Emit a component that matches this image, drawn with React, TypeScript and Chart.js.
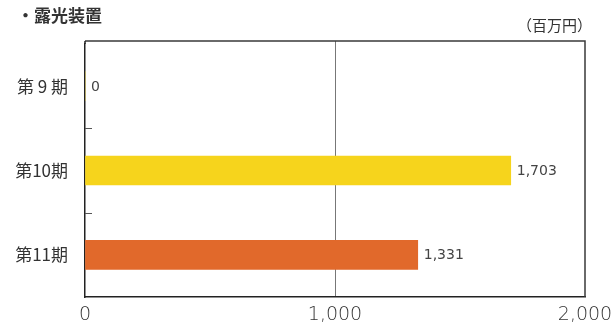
import React, { useEffect, useRef } from "react";
import { Chart, registerables } from "chart.js";

Chart.register(...registerables);

// Fiscal periods and sales of exposure equipment (million yen)
const categories = ["第 9 期", "第10期", "第11期"];
const values = [0, 1703, 1331];
const barColors = ["#f6d41c", "#f6d41c", "#e1692b"];
const xTickValues = [0, 1000, 2000];
const gridValue = 1000;

const title = "・露光装置";
const unitLabel = "（百万円）";

const fmt = (v: number) => v.toLocaleString("en-US");

const decorations = {
  id: "decorations",
  afterDatasetsDraw(chart: any) {
    const { ctx, chartArea } = chart;
    const { left, right, top, bottom } = chartArea;
    const xScale = chart.scales.x;
    const yScale = chart.scales.y;
    const frameTop = top - 3;

    ctx.save();
    // middle grid line reaches the top border
    const gx = Math.round(xScale.getPixelForValue(gridValue)) + 0.5;
    ctx.strokeStyle = "#777";
    ctx.lineWidth = 1;
    ctx.beginPath();
    ctx.moveTo(gx, frameTop);
    ctx.lineTo(gx, top);
    ctx.stroke();

    // top and right border of the plot frame
    ctx.strokeStyle = "#3a3a3a";
    ctx.lineWidth = 1.5;
    ctx.beginPath();
    ctx.moveTo(left, frameTop);
    ctx.lineTo(right, frameTop);
    ctx.lineTo(right, bottom);
    ctx.stroke();
    // left axis continues up to the top border
    ctx.strokeStyle = "#222";
    ctx.beginPath();
    ctx.moveTo(left, frameTop);
    ctx.lineTo(left, top);
    ctx.stroke();

    // short inward ticks between categories
    ctx.strokeStyle = "#555";
    ctx.lineWidth = 1;
    for (let i = 0; i < categories.length - 1; i++) {
      const y = Math.round((yScale.getPixelForValue(i) + yScale.getPixelForValue(i + 1)) / 2) + 0.5;
      ctx.beginPath();
      ctx.moveTo(left, y);
      ctx.lineTo(left + 7, y);
      ctx.stroke();
    }

    // value labels at the end of each bar
    const meta = chart.getDatasetMeta(0);
    ctx.fillStyle = "#444";
    ctx.font = "14px 'DejaVu Sans'";
    ctx.textAlign = "left";
    ctx.textBaseline = "middle";
    meta.data.forEach((el: any, i: number) => {
      ctx.fillText(fmt(values[i]), el.x + 6, el.y + 1);
    });
    ctx.restore();
  },
  afterDraw(chart: any) {
    const { ctx, chartArea } = chart;
    ctx.save();
    ctx.fillStyle = "#333";
    ctx.textBaseline = "middle";
    ctx.textAlign = "left";
    ctx.font = "bold 17px 'Noto Sans CJK JP'";
    ctx.fillText(title, 17, 16);
    ctx.textAlign = "right";
    ctx.font = "15px 'Noto Sans CJK JP'";
    ctx.fillText(unitLabel, chartArea.right + 7, 25);
    ctx.restore();
  },
};

export default function App() {
  const canvasRef = useRef<HTMLCanvasElement | null>(null);

  useEffect(() => {
    if (!canvasRef.current) return;
    const chart = new Chart(canvasRef.current, {
      type: "bar",
      data: {
        labels: categories,
        datasets: [
          {
            data: values,
            backgroundColor: barColors,
            barThickness: 29,
            borderWidth: 0,
          },
        ],
      },
      options: {
        indexAxis: "y",
        animation: false,
        responsive: false,
        devicePixelRatio: 1,
        layout: { padding: { top: 44, right: 29, left: 0, bottom: 0 } },
        plugins: {
          legend: { display: false },
          tooltip: { enabled: false },
        },
        scales: {
          x: {
            type: "linear",
            min: 0,
            max: 2000,
            afterBuildTicks: (scale: any) => {
              scale.ticks = xTickValues.map((v) => ({ value: v }));
            },
            afterFit: (scale: any) => {
              scale.height = 25;
              scale.paddingLeft = 0;
              scale.paddingRight = 0;
            },
            ticks: {
              callback: (v: any) => fmt(Number(v)),
              font: { family: "'DejaVu Sans'", size: 19, weight: "200" },
              color: "#333",
              padding: 7,
              maxRotation: 0,
            },
            grid: {
              drawTicks: false,
              lineWidth: 1,
              color: (c: any) => (c.tick && c.tick.value === gridValue ? "#777" : "rgba(0,0,0,0)"),
            },
            border: { display: true, color: "#222", width: 1.5 },
          },
          y: {
            type: "category",
            afterFit: (scale: any) => {
              scale.width = 85;
              scale.paddingTop = 0;
              scale.paddingBottom = 0;
            },
            ticks: {
              font: { family: "'Noto Sans CJK JP'", size: 17 },
              color: "#333",
              padding: 17,
            },
            grid: { display: false, drawTicks: false },
            border: { display: true, color: "#222", width: 1.5 },
          },
        },
      },
      plugins: [decorations],
    });
    return () => chart.destroy();
  }, []);

  return (
    <div style={{ position: "fixed", left: 0, top: 0, width: 614, height: 322, background: "#fff" }}>
      <canvas ref={canvasRef} width={614} height={322} />
    </div>
  );
}
